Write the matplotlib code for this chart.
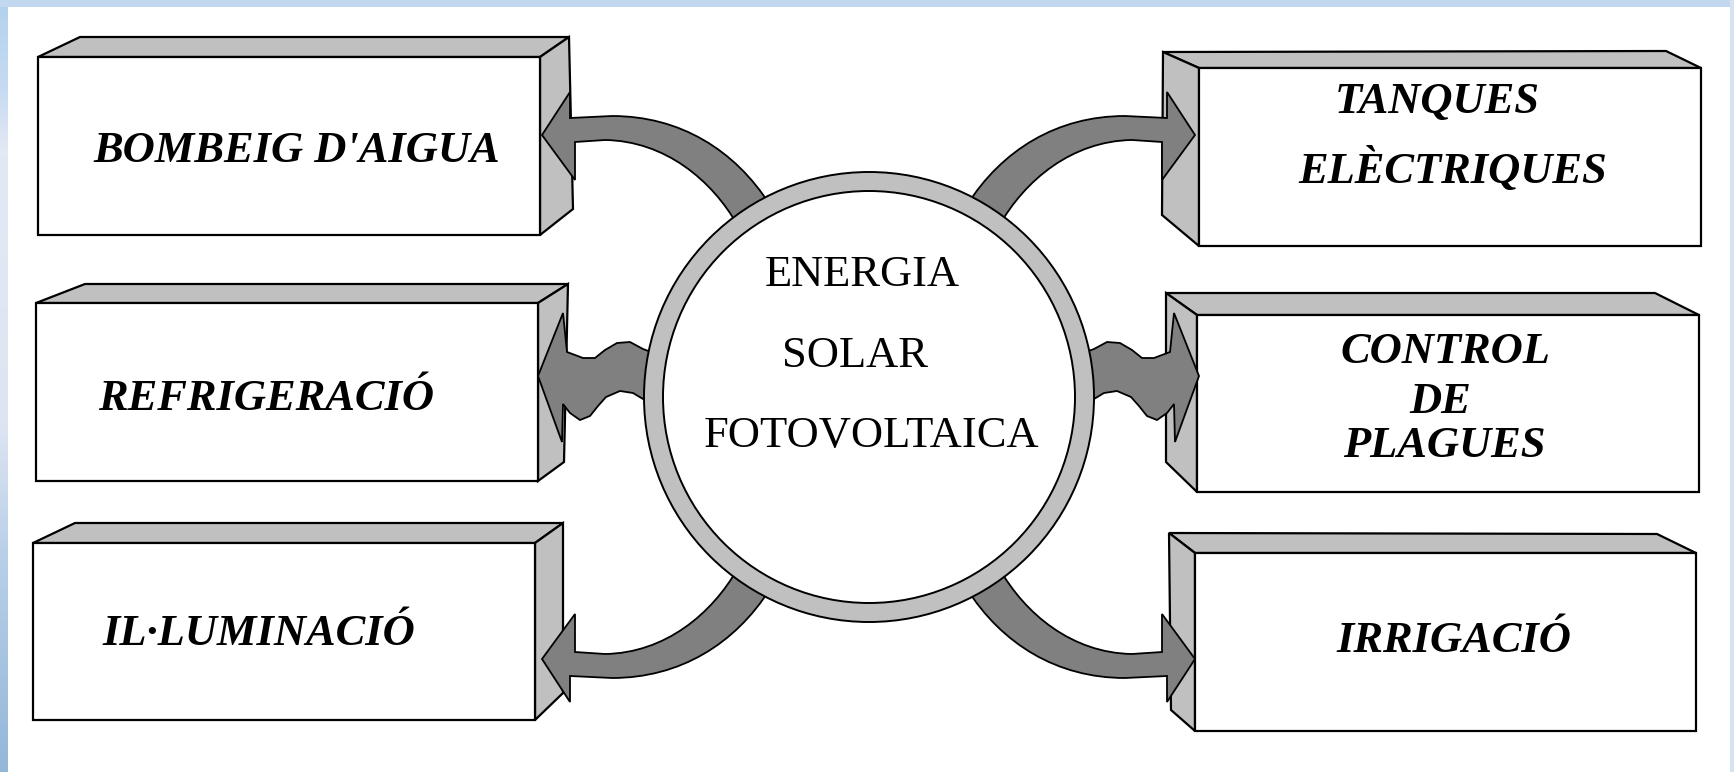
"""
energia solar fotovoltaica - usage diagram
"""

import numpy as np
import matplotlib.pyplot as plt
from matplotlib.patches import Polygon, Circle, PathPatch
from matplotlib.path import Path

W, H = 1734, 772

# texts
left_labels = ["BOMBEIG D'AIGUA", "REFRIGERACIÓ", "IL·LUMINACIÓ"]
right_labels = [["TANQUES", "ELÈCTRIQUES"], ["CONTROL", "DE", "PLAGUES"], ["IRRIGACIÓ"]]
centre_lines = ["ENERGIA", "SOLAR", "FOTOVOLTAICA"]

# box geometry in pixels: front (x0, y0, x1, y1), back corner near, back corner far, side bottom
left_boxes = [
    ((38, 57, 540, 235), (80, 37), (569, 37), (573, 209)),
    ((36, 303, 538, 481), (85, 284), (568, 284), (564, 462)),
    ((33, 543, 535, 720), (75, 523), (563, 523), (563, 693)),
]
right_boxes = [
    ((1199, 68, 1701, 246), (1666, 51), (1163, 52), (1162, 215)),
    ((1197, 315, 1699, 492), (1655, 293), (1166, 293), (1166, 462)),
    ((1195, 553, 1696, 731), (1657, 534), (1169, 533), (1171, 710)),
]

# text anchors (centre x, baseline y)
left_text_pos = [(297, 162), (266, 410), (259, 645)]
right_text_pos = [[(1437, 113), (1453, 183)],
                  [(1445, 363), (1440, 413), (1444, 457)],
                  [(1454, 652)]]
centre_text_pos = [(862, 286), (855, 367), (871, 447)]

circle_c = (869, 397)
r_out, r_in = 225, 206
mirror_x = 868.5
mirror_y = 397

# curved arrow (top-left), mirrored for the other three corners
tl_verts = [(542, 135), (570, 92), (570, 118), (612, 116),
            (680, 116), (735, 150), (770, 205),
            (738, 226),
            (712, 180), (665, 141), (605, 140),
            (575, 142), (575, 180), (542, 135)]
tl_codes = [Path.MOVETO, Path.LINETO, Path.LINETO, Path.LINETO,
            Path.CURVE4, Path.CURVE4, Path.CURVE4,
            Path.LINETO,
            Path.CURVE4, Path.CURVE4, Path.CURVE4,
            Path.LINETO, Path.LINETO, Path.CLOSEPOLY]

# wavy arrow (middle-left), mirrored for the right one
ml_verts = [(538, 376), (563, 313), (567, 352), (583, 358), (595, 358),
            (605, 350), (617, 343), (630, 342), (643, 349), (662, 356),
            (662, 400), (643, 399), (633, 393), (620, 391), (606, 397),
            (598, 406), (590, 416), (580, 420), (570, 413), (563, 404),
            (562, 442)]

# background border gradient
band_y = [0, 90, 150, 420, 560, 772]
band_rgb = [(0.70, 0.82, 0.93), (0.78, 0.86, 0.95), (0.89, 0.91, 0.96),
            (0.87, 0.90, 0.95), (0.72, 0.81, 0.91), (0.58, 0.72, 0.85)]

BOX_FACE = '#c0c0c0'
ARROW = '#808080'

fig = plt.figure(figsize=(W / 100, H / 100), dpi=100)
ax = fig.add_axes([0, 0, 1, 1])
ax.set_xlim(0, W)
ax.set_ylim(H, 0)
ax.axis('off')

img = np.ones((H, W, 3))
yy = np.arange(H)
for k in range(3):
    col = np.interp(yy, band_y, [c[k] for c in band_rgb])
    img[:, :8, k] = col[:, None]
img[:7, :, :] = (0.76, 0.85, 0.94)
img[:, W - 4:, :] = (0.84, 0.89, 0.95)
ax.imshow(img, extent=(0, W, H, 0), aspect='auto', interpolation='nearest', zorder=0)


def draw_box(front, near, far, side_bot, left_side):
    x0, y0, x1, y1 = front
    if left_side:
        top = [(x0, y0), near, far, (x1, y0)]
        side = [(x1, y0), far, side_bot, (x1, y1)]
    else:
        top = [(x1, y0), near, far, (x0, y0)]
        side = [(x0, y0), far, side_bot, (x0, y1)]
    kw = dict(ec='black', lw=1.6, joinstyle='miter', zorder=2)
    ax.add_patch(Polygon(top, closed=True, fc=BOX_FACE, **kw))
    ax.add_patch(Polygon(side, closed=True, fc=BOX_FACE, **kw))
    ax.add_patch(Polygon([(x0, y0), (x1, y0), (x1, y1), (x0, y1)], closed=True, fc='white', **kw))


for b in left_boxes:
    draw_box(*b, left_side=True)
for b in right_boxes:
    draw_box(*b, left_side=False)

# arrows
tl = np.array(tl_verts, dtype=float)
ml = np.array(ml_verts, dtype=float)
curved = [tl.copy(), tl.copy(), tl.copy(), tl.copy()]
curved[1][:, 1] = 2 * mirror_y - curved[1][:, 1]
curved[2][:, 0] = 2 * mirror_x - curved[2][:, 0]
curved[3][:, 0] = 2 * mirror_x - curved[3][:, 0]
curved[3][:, 1] = 2 * mirror_y - curved[3][:, 1]
for v in curved:
    ax.add_patch(PathPatch(Path(v, tl_codes), fc=ARROW, ec='black', lw=1.3, zorder=3))

mr = ml.copy()
mr[:, 0] = 2 * mirror_x - mr[:, 0]
for v in (ml, mr):
    ax.add_patch(Polygon(v, closed=True, fc=ARROW, ec='black', lw=1.3, zorder=3))

# central circle
ax.add_patch(Circle(circle_c, r_out, fc=BOX_FACE, ec='black', lw=1.4, zorder=4))
ax.add_patch(Circle(circle_c, r_in, fc='white', ec='black', lw=1.4, zorder=5))

serif = 'Liberation Serif'
for lab, (x, y) in zip(left_labels, left_text_pos):
    ax.text(x, y, lab, ha='center', va='baseline', fontsize=32, family=serif,
            style='italic', weight='bold', zorder=6)
for lines, poss in zip(right_labels, right_text_pos):
    for lab, (x, y) in zip(lines, poss):
        ax.text(x, y, lab, ha='center', va='baseline', fontsize=32, family=serif,
                style='italic', weight='bold', zorder=6)
for lab, (x, y) in zip(centre_lines, centre_text_pos):
    ax.text(x, y, lab, ha='center', va='baseline', fontsize=32, family=serif, zorder=6)

fig.savefig('out.png', dpi=100)
